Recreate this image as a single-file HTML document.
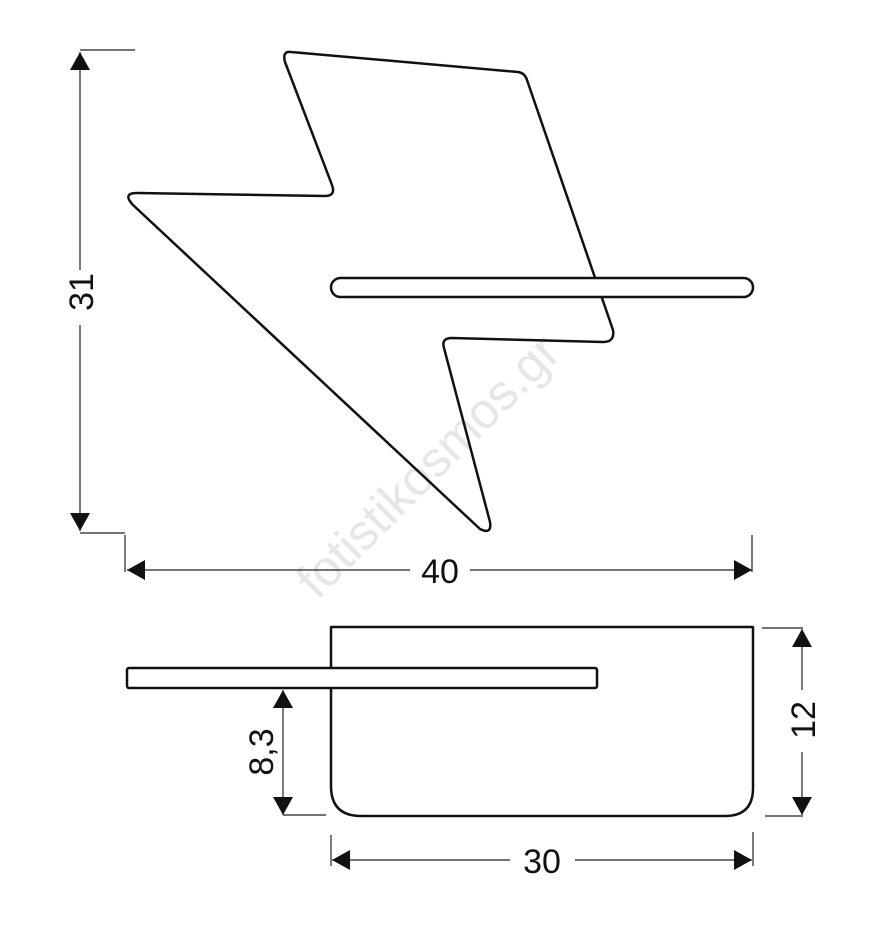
<!DOCTYPE html>
<html><head><style>body{margin:0;background:#fff}</style></head><body>
<svg width="880" height="920" viewBox="0 0 880 920" xmlns="http://www.w3.org/2000/svg">
<defs>
<marker id="a" viewBox="0 0 18 20" refX="18" refY="10" markerWidth="18" markerHeight="20" markerUnits="userSpaceOnUse" orient="auto"><path d="M0,0 L18,10 L0,20 Z" fill="#111"/></marker>
</defs>
<text x="0" y="0" transform="translate(440,478) rotate(-45)" text-anchor="middle" font-family="Liberation Sans, sans-serif" font-size="50" fill="#e6e6e6">fotistikosmos.gr</text>
<g fill="none" stroke="#111" stroke-width="2.5" stroke-linejoin="round">
<path d="M291,52 L518,72 Q525,73 527,80 L613,330 Q615,342 603,342 L452,338 Q441,338 444,348 L490,522 Q492,535 480,529 L133,205 Q122,193 137,193 L325,196 Q336,196 332,185 L285,62 Q282,51 291,52 Z"/>
<rect x="331" y="278" width="422" height="19" rx="9.5" fill="#fff"/>
<path d="M331,627 L753,627 L753,788 Q753,816 725,816 L361,816 Q331,816 331,786 Z"/>
<rect x="127" y="668" width="470" height="20" rx="2" fill="#fff"/>
</g>
<g stroke="#222" stroke-width="1.2" fill="none">
<line x1="80" y1="50" x2="135" y2="50"/><line x1="80" y1="533" x2="125" y2="533"/>
<line x1="80" y1="270" x2="80" y2="52" marker-end="url(#a)"/>
<line x1="80" y1="325" x2="80" y2="531" marker-end="url(#a)"/>
<line x1="125" y1="535" x2="125" y2="572"/><line x1="752" y1="535" x2="752" y2="572"/>
<line x1="410" y1="570" x2="127" y2="570" marker-end="url(#a)"/>
<line x1="470" y1="570" x2="752" y2="570" marker-end="url(#a)"/>
<line x1="283" y1="740" x2="283" y2="690" marker-end="url(#a)"/>
<line x1="283" y1="740" x2="283" y2="815" marker-end="url(#a)"/>
<line x1="283" y1="815" x2="326" y2="815"/>
<line x1="762" y1="628" x2="803" y2="628"/><line x1="765" y1="816" x2="803" y2="816"/>
<line x1="802" y1="690" x2="802" y2="629" marker-end="url(#a)"/>
<line x1="802" y1="752" x2="802" y2="815" marker-end="url(#a)"/>
<line x1="331" y1="835" x2="331" y2="866"/><line x1="753" y1="832" x2="753" y2="866"/>
<line x1="510" y1="860" x2="332" y2="860" marker-end="url(#a)"/>
<line x1="575" y1="860" x2="752" y2="860" marker-end="url(#a)"/>
</g>
<g font-family="Liberation Sans, sans-serif" font-size="34" fill="#111" text-anchor="middle">
<text x="440" y="583">40</text>
<text x="542" y="873">30</text>
<text transform="translate(93,292) rotate(-90)">31</text>
<text transform="translate(273,752) rotate(-90)">8,3</text>
<text transform="translate(815,720) rotate(-90)">12</text>
</g>
</svg>
</body></html>
